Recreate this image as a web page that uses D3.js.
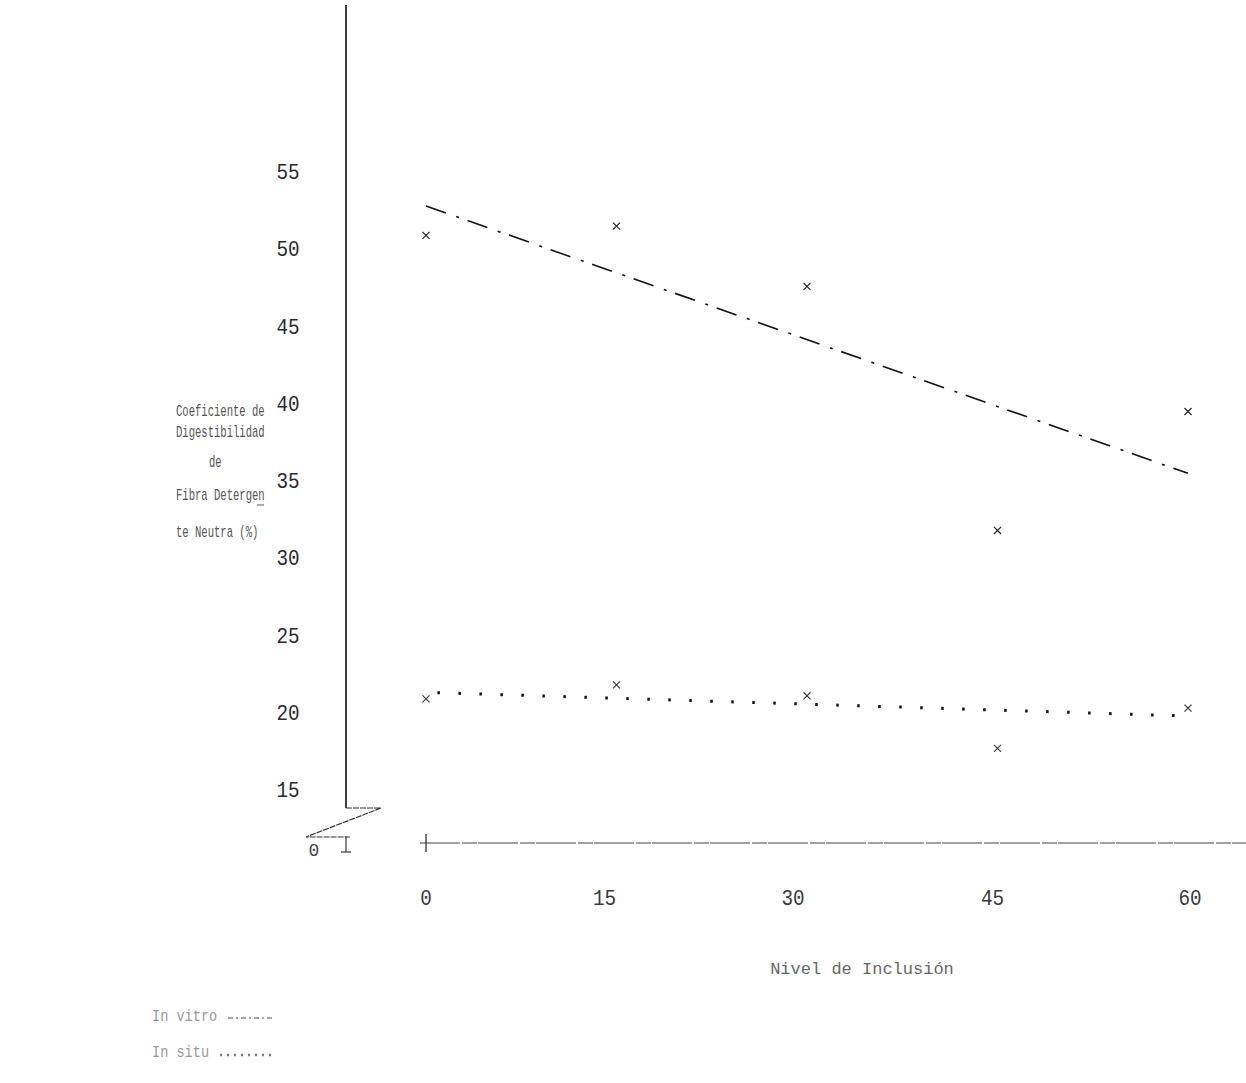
<!DOCTYPE html>
<html><head><meta charset="utf-8">
<script src="https://cdn.jsdelivr.net/npm/d3@7"></script>
<style>html,body{margin:0;padding:0;background:#fff;}</style>
</head><body>
<svg id="chart" width="1246" height="1083"></svg>
<script>
// ---- data ----
const levels = [0, 15, 30, 45, 60];
const inVitro = [50.9, 51.5, 47.6, 31.8, 39.5];
const inSitu = [20.9, 21.8, 21.1, 17.7, 20.3];
const fitLevels = [0, 60];
const inVitroFit = [52.8, 35.5];
const inSituFit = [21.3, 19.8];
const yTicks = [15, 20, 25, 30, 35, 40, 45, 50, 55];
const xTicks = [0, 15, 30, 45, 60];
const yTitle = ["Coeficiente de", "Digestibilidad", "de", "Fibra Detergen", "te Neutra (%)"];
const xTitle = "Nivel de Inclusión";
const legendLabels = ["In vitro", "In situ"];

const svg = d3.select("#chart");
const font = "'Liberation Mono','DejaVu Sans Mono',monospace";
const x = d3.scaleLinear().domain([0, 60]).range([426, 1188]);
const y = d3.scaleLinear().domain([15, 55]).range([790, 172]);
const axisX = 346, baseY = 843;

// y axis line
svg.append("line").attr("x1", axisX).attr("x2", axisX).attr("y1", 5).attr("y2", 808)
  .attr("stroke", "#111").attr("stroke-width", 1.6);
// axis break
svg.append("path").attr("d", `M${axisX},808 L381,808 L306,837 L350,837`)
  .attr("fill", "none").attr("stroke", "#333").attr("stroke-width", 1.2).attr("stroke-dasharray", "6,1");
svg.append("line").attr("x1", axisX).attr("x2", axisX).attr("y1", 836).attr("y2", 852)
  .attr("stroke", "#333").attr("stroke-width", 1.2);
svg.append("line").attr("x1", axisX - 5).attr("x2", axisX + 5).attr("y1", 852).attr("y2", 852)
  .attr("stroke", "#333").attr("stroke-width", 1.2);
svg.append("text").attr("x", 314).attr("y", 856).attr("text-anchor", "middle")
  .attr("font-family", font).attr("font-size", 18).attr("fill", "#444").text("0");

// y tick labels
svg.append("g").selectAll("text").data(yTicks).join("text")
  .attr("transform", d => `translate(288,${y(d) + 7}) scale(0.92,1.05)`)
  .attr("text-anchor", "middle")
  .attr("font-family", font).attr("font-size", 21).attr("fill", "#2a2a2a")
  .text(d => d);

// x axis line
svg.append("line").attr("x1", 420).attr("x2", 1246).attr("y1", baseY).attr("y2", baseY)
  .attr("stroke", "#444").attr("stroke-width", 1.2).attr("stroke-dasharray", "40,2,15,1");
svg.append("line").attr("x1", x(0)).attr("x2", x(0)).attr("y1", 834).attr("y2", 852)
  .attr("stroke", "#333").attr("stroke-width", 1.3);
const xLabOffset = [0, -12, -14, -5, 2];
svg.append("g").selectAll("text").data(xTicks).join("text")
  .attr("transform", (d, i) => `translate(${x(d) + xLabOffset[i]},905) scale(0.92,1.05)`)
  .attr("text-anchor", "middle")
  .attr("font-family", font).attr("font-size", 21).attr("fill", "#3a3a3a")
  .text(d => d);

// x title
svg.append("text").attr("x", 862).attr("y", 974).attr("text-anchor", "middle")
  .attr("font-family", font).attr("font-size", 17).attr("fill", "#666")
  .text(xTitle);

// y title
const titleY = [416, 437, 467, 500, 537];
const titleX = [176, 176, 209, 176, 176];
svg.append("g").selectAll("text").data(yTitle).join("text")
  .attr("transform", (d, i) => `translate(${titleX[i]},${titleY[i]}) scale(0.66,1)`)
  .attr("font-family", font).attr("font-size", 16).attr("fill", "#555")
  .text(d => d);
// underline of "n" in Detergen
svg.append("line").attr("x1", 257).attr("x2", 264).attr("y1", 505).attr("y2", 505)
  .attr("stroke", "#555").attr("stroke-width", 1);

// regression lines
const line = d3.line().x(d => x(d[0])).y(d => y(d[1]));
svg.append("path").datum(fitLevels.map((l, i) => [l, inVitroFit[i]])).attr("d", line)
  .attr("fill", "none").attr("stroke", "#111").attr("stroke-width", 1.6)
  .attr("stroke-dasharray", "21,11,3,9");
svg.append("path").datum([[0.9, inSituFit[0]], [59.5, inSituFit[1]]]).attr("d", line)
  .attr("fill", "none").attr("stroke", "#111").attr("stroke-width", 3)
  .attr("stroke-dasharray", "2.5,18.5");

// markers
const sym = d3.symbol().type(d3.symbolTimes).size(34);
svg.append("g").selectAll("path").data(levels.map((l, i) => [l, inVitro[i]])).join("path")
  .attr("transform", d => `translate(${x(d[0])},${y(d[1])})`).attr("d", sym)
  .attr("fill", "none").attr("stroke", "#222").attr("stroke-width", 1.2);
svg.append("g").selectAll("path").data(levels.map((l, i) => [l, inSitu[i]])).join("path")
  .attr("transform", d => `translate(${x(d[0])},${y(d[1])})`).attr("d", sym)
  .attr("fill", "none").attr("stroke", "#333").attr("stroke-width", 1.1);

// legend
const legY = [1021, 1057];
svg.append("g").selectAll("text").data(legendLabels).join("text")
  .attr("transform", (d, i) => `translate(152,${legY[i]}) scale(0.85,1)`)
  .attr("font-family", font).attr("font-size", 16).attr("fill", "#999")
  .text(d => d);
svg.append("line").attr("x1", 228).attr("x2", 272).attr("y1", legY[0] - 3).attr("y2", legY[0] - 3)
  .attr("stroke", "#888").attr("stroke-width", 1.6).attr("stroke-dasharray", "5,3,2,3");
svg.append("line").attr("x1", 220).attr("x2", 272).attr("y1", legY[1] - 2).attr("y2", legY[1] - 2)
  .attr("stroke", "#777").attr("stroke-width", 2.4).attr("stroke-dasharray", "2,5");
</script>
</body></html>
